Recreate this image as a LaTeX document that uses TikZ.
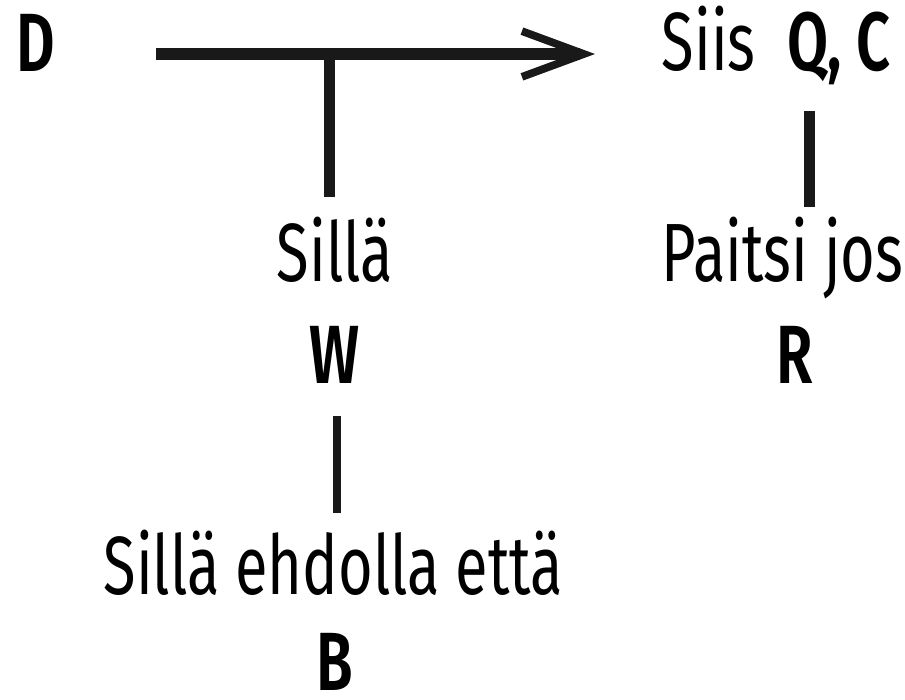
\documentclass[tikz,border=0pt]{standalone}
\usepackage{fontspec}
\setmainfont{Fira Sans}[FakeStretch=0.72, BoldFont={Fira Sans SemiBold}, BoldFeatures={FakeStretch=0.72}]
\usetikzlibrary{arrows.meta}
\tikzset{
  lbl/.style={inner sep=0pt, outer sep=0pt, font=\fontsize{23.5pt}{27pt}\selectfont},
  bar/.style={line width=3.2pt, color=black!90},
  thinbar/.style={line width=2.2pt, color=black!90},
  claimarrow/.style={line width=3.4pt, color=black!90,
    -{Straight Barb[length=17.6pt,width=13pt,line width=2.2pt]}}
}
\begin{document}
\begin{tikzpicture}[x=0.01cm,y=-0.01cm]
\useasboundingbox (0,0) rectangle (905,699);
% texts
\node[lbl,anchor=base west] (data) at (16,71) {\bfseries D};
\node[lbl,anchor=base west] (claim) at (662,70) {Siis\hspace{9pt}\bfseries Q, C};
\node[lbl,anchor=base] (since) at (335,281) {Sillä};
\node[lbl,anchor=base] (warrant) at (335,383) {\bfseries W};
\node[lbl,anchor=base] (onaccount) at (333.5,594) {Sillä ehdolla että};
\node[lbl,anchor=base] (backing) at (335,690) {\bfseries B};
\node[lbl,anchor=base west] (unless) at (662,281) {Paitsi jos};
\node[lbl,anchor=base] (rebuttal) at (795,383) {\bfseries R};
% connector points
\coordinate (as) at (156,54);
\coordinate (ae) at (595,54);
\coordinate (wj) at (329.5,54);
\coordinate (wt) at (329.5,197);
\coordinate (bt) at (337,416);
\coordinate (bb) at (337,513);
\coordinate (qt) at (809.5,111);
\coordinate (qb) at (809.5,207);
% connectors
\draw[claimarrow] (as) -- (ae);
\draw[bar] (wj) -- (wt);
\draw[thinbar] (bt) -- (bb);
\draw[bar] (qt) -- (qb);
\end{tikzpicture}
\end{document}
